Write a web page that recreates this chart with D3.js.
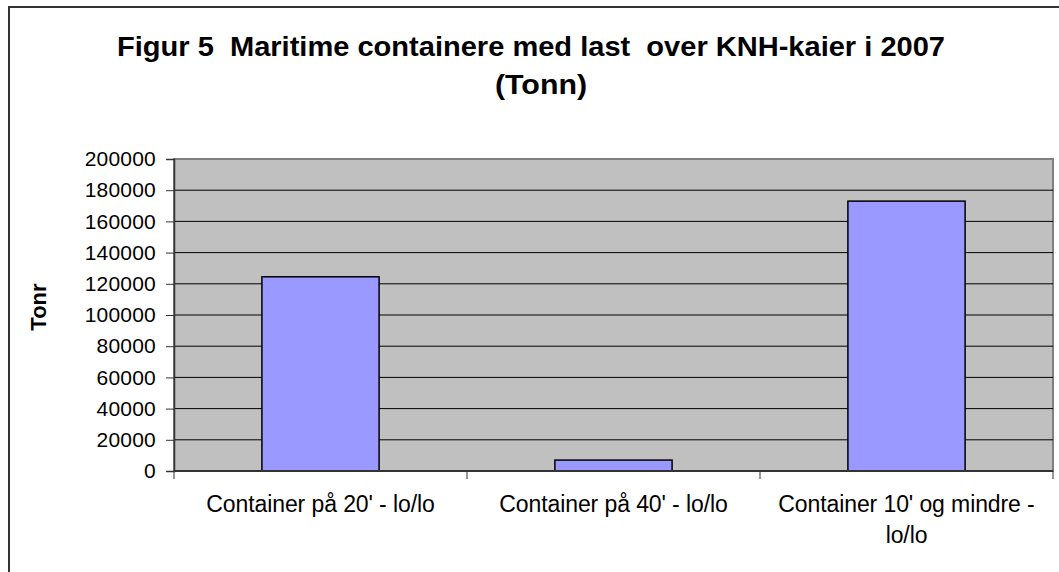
<!DOCTYPE html>
<html>
<head>
<meta charset="utf-8">
<script src="https://cdn.jsdelivr.net/npm/d3@7"></script>
<style>
  body { margin: 0; background: #fff; }
  text { font-family: "Liberation Sans", Arial, sans-serif; white-space: pre; }
</style>
</head>
<body>
<div id="chart"></div>
<script>
const categories = ["Container på 20' - lo/lo", "Container på 40' - lo/lo", "Container 10' og mindre -\nlo/lo"];
const values = [124500, 7000, 173000];
const yTicks = [0, 20000, 40000, 60000, 80000, 100000, 120000, 140000, 160000, 180000, 200000];
const titleLines = ["Figur 5  Maritime containere med last  over KNH-kaier i 2007", "(Tonn)"];
const yTitle = "Tonr";

const svg = d3.select("#chart")
    .append("svg")
    .attr("width", 1059)
    .attr("height", 572);

// outer chart frame
svg.append("rect")
    .attr("x", 9).attr("y", 7)
    .attr("width", 1100).attr("height", 600)
    .attr("fill", "#fff")
    .attr("stroke", "#333")
    .attr("stroke-width", 2);

const plot = { left: 174, top: 159, right: 1053, bottom: 471 };

const x = d3.scaleBand()
    .domain(categories)
    .range([plot.left, plot.right])
    .paddingInner(0.6)
    .paddingOuter(0.3);

const xEdge = d3.scaleLinear()
    .domain([0, categories.length])
    .range([plot.left, plot.right]);

const y = d3.scaleLinear()
    .domain([0, 200000])
    .range([plot.bottom, plot.top]);

// plot area
svg.append("rect")
    .attr("x", plot.left).attr("y", plot.top)
    .attr("width", plot.right - plot.left)
    .attr("height", plot.bottom - plot.top)
    .attr("fill", "#C0C0C0")
    .attr("stroke", "#808080")
    .attr("stroke-width", 2);

// gridlines
svg.append("g")
    .selectAll("line")
    .data(yTicks.filter(d => d > 0 && d < 200000))
    .join("line")
    .attr("x1", plot.left).attr("x2", plot.right)
    .attr("y1", d => y(d)).attr("y2", d => y(d))
    .attr("stroke", "#000")
    .attr("stroke-width", 1);

// bars
svg.append("g")
    .selectAll("rect")
    .data(values)
    .join("rect")
    .attr("x", (d, i) => x(categories[i]))
    .attr("y", d => y(d))
    .attr("width", x.bandwidth())
    .attr("height", d => y(0) - y(d))
    .attr("fill", "#9999FF")
    .attr("stroke", "#000")
    .attr("stroke-width", 1.5);

// y axis
const yAxis = svg.append("g")
    .attr("transform", `translate(${plot.left},0)`)
    .call(d3.axisLeft(y).tickValues(yTicks).tickSize(8).tickPadding(10).tickFormat(d3.format("d")));
yAxis.select(".domain").attr("stroke", "#333").attr("stroke-width", 1.5);
yAxis.selectAll(".tick line").attr("stroke", "#333");
yAxis.selectAll(".tick text")
    .attr("font-family", "Liberation Sans, Arial, sans-serif")
    .attr("font-size", 21)
    .attr("letter-spacing", 0.2)
    .attr("fill", "#000");

// x axis line and ticks at category edges
svg.append("line")
    .attr("x1", plot.left).attr("x2", plot.right)
    .attr("y1", plot.bottom).attr("y2", plot.bottom)
    .attr("stroke", "#333").attr("stroke-width", 2);
svg.append("g")
    .selectAll("line")
    .data(d3.range(categories.length + 1))
    .join("line")
    .attr("x1", d => xEdge(d)).attr("x2", d => xEdge(d))
    .attr("y1", plot.bottom).attr("y2", plot.bottom + 8)
    .attr("stroke", "#333");

// category labels
svg.append("g")
    .selectAll("text")
    .data(categories)
    .join("text")
    .attr("x", d => x(d) + x.bandwidth() / 2)
    .attr("y", 512)
    .attr("text-anchor", "middle")
    .attr("font-size", 23)
    .attr("letter-spacing", -0.1)
    .selectAll("tspan")
    .data(d => d.split("\n"))
    .join("tspan")
    .attr("x", function () { return d3.select(this.parentNode).attr("x"); })
    .attr("dy", (d, i) => i === 0 ? 0 : 31)
    .text(d => d);

// title
svg.append("text")
    .attr("x", 531).attr("y", 56)
    .attr("text-anchor", "middle")
    .attr("font-size", 28)
    .attr("font-weight", "bold")
    .attr("textLength", 828)
    .attr("lengthAdjust", "spacingAndGlyphs")
    .text(titleLines[0]);
svg.append("text")
    .attr("x", 541).attr("y", 94)
    .attr("text-anchor", "middle")
    .attr("font-size", 28)
    .attr("font-weight", "bold")
    .attr("textLength", 92)
    .attr("lengthAdjust", "spacingAndGlyphs")
    .text(titleLines[1]);

// y axis title
svg.append("text")
    .attr("transform", "translate(46,307) rotate(-90)")
    .attr("text-anchor", "middle")
    .attr("font-size", 22)
    .attr("font-weight", "bold")
    .text(yTitle);
</script>
</body>
</html>
